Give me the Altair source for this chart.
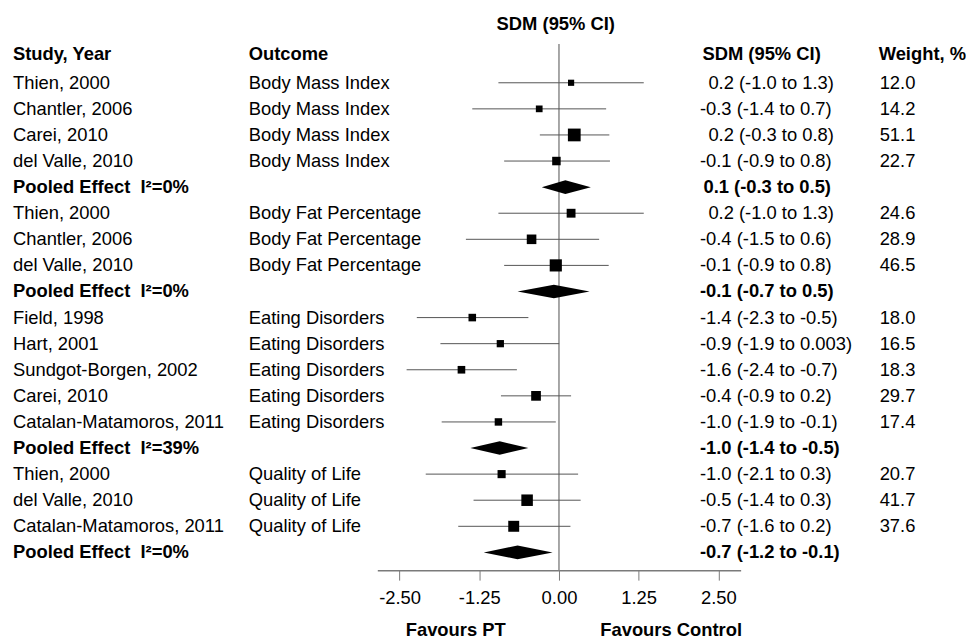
import altair as alt
import pandas as pd

FONT = "Liberation Sans"
FS = 18.5

# ---- data ----
studies = ["Thien, 2000", "Chantler, 2006", "Carei, 2010", "del Valle, 2010",
           "Pooled Effect\u00a0 I\u00b2=0%",
           "Thien, 2000", "Chantler, 2006", "del Valle, 2010",
           "Pooled Effect\u00a0 I\u00b2=0%",
           "Field, 1998", "Hart, 2001", "Sundgot-Borgen, 2002", "Carei, 2010",
           "Catalan-Matamoros, 2011",
           "Pooled Effect\u00a0 I\u00b2=39%",
           "Thien, 2000", "del Valle, 2010", "Catalan-Matamoros, 2011",
           "Pooled Effect\u00a0 I\u00b2=0%"]
outcomes = ["Body Mass Index"] * 4 + [""] + ["Body Fat Percentage"] * 3 + [""] + \
           ["Eating Disorders"] * 5 + [""] + ["Quality of Life"] * 3 + [""]
pooled = [False] * 4 + [True] + [False] * 3 + [True] + [False] * 5 + [True] + [False] * 3 + [True]
est = [0.19, -0.31, 0.24, -0.04, 0.10,
       0.19, -0.43, -0.05, -0.08,
       -1.36, -0.92, -1.53, -0.36, -0.95, -0.93,
       -0.90, -0.50, -0.71, -0.65]
lo = [-0.95, -1.36, -0.30, -0.86, -0.27,
      -0.95, -1.46, -0.86, -0.65,
      -2.23, -1.86, -2.39, -0.91, -1.84, -1.39,
      -2.09, -1.34, -1.58, -1.18]
hi = [1.33, 0.74, 0.79, 0.80, 0.50,
      1.33, 0.63, 0.78, 0.48,
      -0.48, 0.003, -0.66, 0.19, -0.05, -0.48,
      0.30, 0.34, 0.18, -0.10]
weights = [12.0, 14.2, 51.1, 22.7, None,
           24.6, 28.9, 46.5, None,
           18.0, 16.5, 18.3, 29.7, 17.4, None,
           20.7, 41.7, 37.6, None]
ci_text = ["0.2 (-1.0 to 1.3)", "-0.3 (-1.4 to 0.7)", "0.2 (-0.3 to 0.8)", "-0.1 (-0.9 to 0.8)",
           "0.1 (-0.3 to 0.5)",
           "0.2 (-1.0 to 1.3)", "-0.4 (-1.5 to 0.6)", "-0.1 (-0.9 to 0.8)",
           "-0.1 (-0.7 to 0.5)",
           "-1.4 (-2.3 to -0.5)", "-0.9 (-1.9 to 0.003)", "-1.6 (-2.4 to -0.7)",
           "-0.4 (-0.9 to 0.2)", "-1.0 (-1.9 to -0.1)",
           "-1.0 (-1.4 to -0.5)",
           "-1.0 (-2.1 to 0.3)", "-0.5 (-1.4 to 0.3)", "-0.7 (-1.6 to 0.2)",
           "-0.7 (-1.2 to -0.1)"]
headers = ["Study, Year", "Outcome", "SDM (95% CI)", "Weight, %"]
ticks = [-2.5, -1.25, 0.0, 1.25, 2.5]
favours = ["Favours PT", "Favours Control"]
favours_x = [-1.62, 1.76]

# ---- tables ----
n = len(studies)
df = pd.DataFrame({
    "row": list(range(1, n + 1)), "study": studies, "outcome": outcomes, "pooled": pooled,
    "est": est, "lo": lo, "hi": hi,
    "weight": [0.0 if w is None else w for w in weights],
    "ci": ci_text,
})
df["neg"] = [t.startswith("-") for t in ci_text]
df["wtxt"] = [("" if w is None else f"{w:.1f}") for w in weights]

studies_df = df[~df["pooled"]].reset_index(drop=True)
pooled_df = df[df["pooled"]].reset_index(drop=True)

# diamond outline (horizontal-orient area): top tip, widest middle, bottom tip
HH = 0.26
dia = []
for _, r in pooled_df.iterrows():
    g = int(r["row"])
    e = float(r["est"])
    dia.append({"g": g, "y": g - HH, "x": e, "x2": e})
    dia.append({"g": g, "y": float(g), "x": float(r["lo"]), "x2": float(r["hi"])})
    dia.append({"g": g, "y": g + HH, "x": e, "x2": e})
dia_df = pd.DataFrame(dia)

YMIN, YMAX = -0.484, 19.683
hdr_df = pd.DataFrame({"row": [-0.1] * 4, "text": headers})
fav_df = pd.DataFrame({"x": favours_x, "text": favours})
zero_df = pd.DataFrame({"x": [0.0], "y": [YMIN], "y2": [YMAX]})
title_df = pd.DataFrame({"x": [-0.05], "t": ["SDM (95% CI)"]})

W, H = 366, 530
xs = alt.Scale(domain=[-2.85, 2.85], nice=False, zero=False)
ys = alt.Scale(domain=[YMIN, YMAX], nice=False, zero=False, reverse=True)
Y = alt.Y("row:Q", scale=ys, axis=None)

zero_line = alt.Chart(zero_df).mark_rule(color="#8a8a8a", strokeWidth=1.5).encode(
    x=alt.X("x:Q", scale=xs,
            axis=alt.Axis(values=ticks, title=None, grid=False,
                          labelExpr="replace(format(datum.value, '.2f'), '\u2212', '-')",
                          tickSize=10, tickColor="#7a7a7a", domainColor="#7a7a7a",
                          labelFont=FONT, labelFontSize=FS, labelColor="black",
                          labelPadding=9, tickWidth=1, domainWidth=1.5)),
    y=alt.Y("y:Q", scale=ys, axis=None), y2="y2:Q")

ci_lines = alt.Chart(studies_df).mark_rule(color="#555555", strokeWidth=1).encode(
    x=alt.X("lo:Q", scale=xs), x2="hi:Q", y=Y)

squares = alt.Chart(studies_df).mark_square(color="black", opacity=1).encode(
    x=alt.X("est:Q", scale=xs), y=Y,
    size=alt.Size("weight:Q", scale=alt.Scale(domain=[0, 51.1], range=[0, 165]), legend=None))

diamonds = alt.Chart(dia_df).mark_area(color="black", opacity=1, orient="horizontal",
                                       interpolate="linear").encode(
    y=alt.Y("y:Q", scale=ys, axis=None),
    x=alt.X("x:Q", scale=xs, stack=None), x2="x2:Q",
    detail="g:N")


def col_text(df_, field, xpx, bold=False):
    return alt.Chart(df_).mark_text(
        align="left", baseline="middle", font=FONT, fontSize=FS, color="black",
        fontWeight="bold" if bold else "normal", dx=xpx).encode(
        x=alt.value(0), y=Y, text=f"{field}:N")


CI_X = 325
layers = [zero_line, ci_lines, squares, diamonds,
          col_text(studies_df, "study", -367),
          col_text(pooled_df, "study", -367, bold=True),
          col_text(studies_df, "outcome", -129.5),
          col_text(studies_df[studies_df["neg"]], "ci", CI_X),
          col_text(studies_df[~studies_df["neg"]], "ci", CI_X + 8.5),
          col_text(pooled_df[pooled_df["neg"]], "ci", CI_X, bold=True),
          col_text(pooled_df[~pooled_df["neg"]], "ci", CI_X + 3.5, bold=True),
          col_text(studies_df, "wtxt", 506)]

hdr_x = [-367, -129.5, 327.5, 505]
for i, hx in enumerate(hdr_x):
    layers.append(col_text(hdr_df.iloc[[i]].reset_index(drop=True), "text", hx, bold=True))

title_txt = alt.Chart(title_df).mark_text(
    align="center", baseline="middle", font=FONT, fontSize=FS, fontWeight="bold",
    color="black", dy=-20).encode(
    x=alt.X("x:Q", scale=xs), y=alt.value(0), text="t:N")

fav = alt.Chart(fav_df).mark_text(align="center", baseline="middle", font=FONT, fontSize=FS,
                                  fontWeight="bold", color="black", dy=60).encode(
    x=alt.X("x:Q", scale=xs), y=alt.value(H), text="text:N")

layers += [title_txt, fav]

# explicit canvas: plot area starts at page (380, 42)
P_LEFT, P_TOP = 372, 34
TOTAL_W, TOTAL_H = 965, 634
chart = alt.layer(*layers).properties(
    width=W, height=H,
    autosize=alt.AutoSizeParams(type="none"),
    padding={"left": P_LEFT, "top": P_TOP,
             "right": TOTAL_W - W - P_LEFT, "bottom": TOTAL_H - H - P_TOP},
).configure_view(stroke=None)

chart.save("out.html", embed_options={"renderer": "svg", "actions": False})
